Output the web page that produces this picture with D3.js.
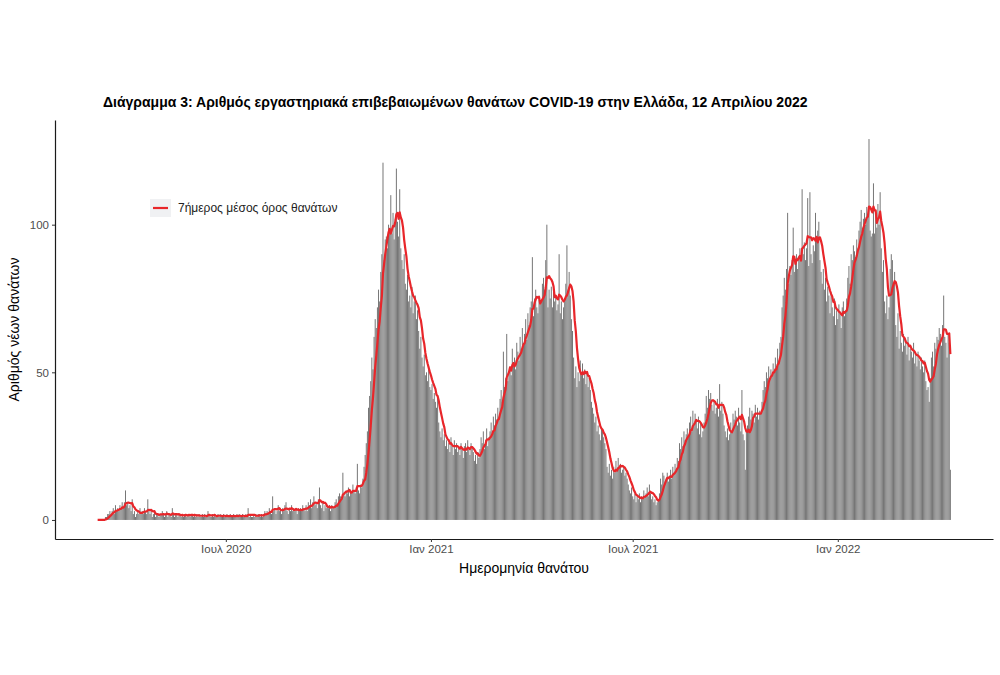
<!DOCTYPE html>
<html>
<head>
<meta charset="utf-8">
<script src="https://cdn.jsdelivr.net/npm/d3@7"></script>
<style>
body { margin: 0; background: #fff; }
svg text { font-family: 'Liberation Sans', Arial, sans-serif; }
</style>
</head>
<body>
<div class="interactive-wrapper"></div>
<script>

// daily deaths by date of death, from 8 Mar 2020
const startDate = '2020-03-08';

const deaths2020 = [
	0,0,0,0,0,0,0,1,1,2,2,3,2,3,4,2,5,3,4,3,5,4,6,4,
	6,10,5,6,4,5,3,7,2,3,1,2,3,2,4,2,3,2,4,3,2,7,3,2,3,1,2,3,1,2,
	2,1,2,2,3,2,1,2,3,1,2,2,1,4,2,1,2,2,1,2,2,1,2,1,2,2,1,2,2,1,2,
	2,1,2,1,2,1,2,1,1,2,1,2,1,1,3,2,1,1,2,1,2,1,1,2,1,2,1,1,2,1,
	1,2,1,1,2,1,1,2,1,1,2,1,2,1,1,2,1,1,2,1,4,1,2,1,1,2,1,2,1,2,2,
	1,2,1,2,3,2,3,2,4,3,2,8,3,4,2,3,5,3,4,2,4,3,5,6,3,2,4,3,5,3,4,
	3,4,2,4,3,4,3,5,4,3,5,3,6,5,7,4,6,8,5,6,4,7,11,5,4,6,3,5,4,5,
	4,5,3,5,4,4,6,7,5,8,9,8,7,16,9,8,10,9,11,8,10,9,12,10,9,11,19,10,9,12,11,
	14,18,22,26,30,38,42,47,55,51,62,68,65,72,78,74,84,90,121,88,95,96,92,100,98,110,97,104,95,102,
	119,101,96,112,92,88,85,90,80,78,83,74,76,72,79,70,74,76,68,71,64,58,62,55,52,56,49,50,47,52,45
];

const deaths2021 = [
	44,46,41,43,40,38,42,33,30,28,31,27,29,25,27,24,26,23,28,25,22,27,24,26,23,25,22,26,24,21,25,
	26,23,27,24,22,26,25,23,20,22,19,23,21,24,28,26,30,24,27,31,25,28,30,33,29,35,32,36,
	34,38,35,41,44,40,57,45,48,63,47,50,52,49,58,53,55,51,60,57,54,62,58,65,60,63,68,61,70,66,72,
	74,89,69,75,78,72,70,76,73,74,80,82,78,88,100,72,78,75,79,72,78,74,76,71,73,90,70,74,68,72,
	75,80,93,78,84,76,68,64,55,48,52,45,50,47,54,49,53,48,51,46,50,45,48,44,40,38,36,33,35,30,32,
	29,27,31,30,28,26,24,18,16,19,15,17,14,18,16,20,17,21,18,19,16,17,18,15,16,14,12,10,9,11,
	8,7,9,6,8,7,9,6,8,7,10,8,9,11,8,12,9,7,8,6,7,5,6,7,9,14,12,16,15,13,14,
	16,13,15,17,14,18,16,19,17,21,20,26,24,28,25,30,27,29,31,28,33,35,30,37,32,36,34,31,35,29,33,
	28,30,33,36,42,38,44,41,43,39,37,40,36,38,41,35,46,37,40,36,32,30,28,31,27,29,33,30,36,34,
	37,35,32,38,33,30,44,29,27,17,30,32,35,38,34,37,36,33,39,35,38,34,37,36,40,44,47,45,50,48,52,
	47,51,49,53,50,55,52,58,54,60,62,72,76,82,78,85,104,80,86,83,88,99,84,87,90,85,89,92,88,112,
	90,94,88,92,109,86,111,90,87,93,91,104,95,98,101,88,84,80,85,78,82,74,79,76,70,77,72,69,75,66,71
];

const deaths2022 = [
	68,73,70,65,72,74,69,71,75,82,86,80,90,88,93,91,89,95,92,98,101,105,99,102,104,100,106,103,129,98,96,
	97,114,97,103,99,107,100,111,92,84,88,74,70,76,68,72,85,90,88,79,84,66,62,70,58,64,60,57,
	63,59,61,56,62,54,58,57,55,60,53,56,52,57,54,51,55,52,50,54,47,44,45,40,48,55,57,52,60,58,62,
	61,65,63,59,66,76,62,60,55,63,60,17
];

const yTicks = [0, 50, 100];
const xTickDates = ['2020-07-01', '2021-01-01', '2021-07-01', '2022-01-01'];
const xTickLabels = ['Ιουλ 2020', 'Ιαν 2021', 'Ιουλ 2021', 'Ιαν 2022'];

const titleText = 'Διάγραμμα 3: Αριθμός εργαστηριακά επιβεβαιωμένων θανάτων COVID-19 στην Ελλάδα, 12 Απριλίου 2022';
const legendText = '7ήμερος μέσος όρος θανάτων';
const xTitle = 'Ημερομηνία θανάτου';
const yTitle = 'Αριθμός νέων θανάτων';

let width = 1000;
let height = 675;
let panel = {left: 55, right: 993, top: 120, bottom: 539};

let svg = d3.select('.interactive-wrapper').append('svg')
.attr('width', width)
.attr('height', height);

const parseDate = d3.utcParse('%Y-%m-%d');
const start = parseDate(startDate);

let deaths = deaths2020.concat(deaths2021, deaths2022);

let data = deaths.map((v, i) => ({
	date: d3.utcDay.offset(start, i),
	value: v,
	avg: d3.mean(deaths.slice(Math.max(0, i - 6), i + 1))
}));

const end = data[data.length - 1].date;
const pad = (end - start) * 0.05;

let xScale = d3.scaleUtc()
.domain([new Date(+start - pad), new Date(+end + pad)])
.range([panel.left, panel.right]);

const maxVal = d3.max(deaths);

let yScale = d3.scaleLinear()
.domain([-maxVal * 0.05, maxVal * 1.05])
.range([panel.bottom, panel.top]);

const barW = xScale(d3.utcHour.offset(start, 0.9 * 24)) - xScale(start);

svg.append('g')
.selectAll('rect')
.data(data.filter(d => d.value > 0))
.enter()
.append('rect')
.attr('x', d => xScale(d.date) - barW / 2)
.attr('width', barW)
.attr('y', d => yScale(d.value))
.attr('height', d => yScale(0) - yScale(d.value))
.attr('fill', '#737373');

let line = d3.line()
.x(d => xScale(d.date))
.y(d => yScale(d.avg));

svg.append('path')
.datum(data)
.attr('d', line)
.attr('fill', 'none')
.attr('stroke', '#e8262a')
.attr('stroke-width', 2.2)
.attr('stroke-linejoin', 'round');

// axes
let xAxis = svg.append('g')
.attr('transform', `translate(0,${panel.bottom})`)
.call(d3.axisBottom(xScale)
	.tickValues(xTickDates.map(parseDate))
	.tickFormat((d, i) => xTickLabels[i])
	.tickSize(3)
	.tickSizeOuter(0)
	.tickPadding(3));

let yAxis = svg.append('g')
.attr('transform', `translate(${panel.left},0)`)
.call(d3.axisLeft(yScale)
	.tickValues(yTicks)
	.tickSize(3)
	.tickSizeOuter(0)
	.tickPadding(3));

[xAxis, yAxis].forEach(ax => {
	ax.select('.domain').attr('stroke', '#1a1a1a').attr('stroke-width', 1.2);
	ax.selectAll('.tick line').attr('stroke', '#333');
	ax.selectAll('.tick text').attr('fill', '#4d4d4d').style('font-size', '11.5px');
});

// titles
svg.append('text')
.attr('x', 103)
.attr('y', 107)
.style('font-size', '14px')
.style('font-weight', 'bold')
.attr('fill', '#000')
.text(titleText);

svg.append('text')
.attr('x', (panel.left + panel.right) / 2)
.attr('y', 573)
.attr('text-anchor', 'middle')
.style('font-size', '14px')
.attr('fill', '#000')
.text(xTitle);

svg.append('text')
.attr('transform', `translate(19,${(panel.top + panel.bottom) / 2}) rotate(-90)`)
.attr('text-anchor', 'middle')
.style('font-size', '14px')
.attr('fill', '#000')
.text(yTitle);

// legend
let legend = svg.append('g')
.attr('transform', 'translate(150,199)');

legend.append('rect')
.attr('width', 21)
.attr('height', 18)
.attr('fill', '#f0f1f3');

legend.append('line')
.attr('x1', 3)
.attr('x2', 18)
.attr('y1', 9)
.attr('y2', 9)
.attr('stroke', '#e8262a')
.attr('stroke-width', 2.2);

legend.append('text')
.attr('x', 28)
.attr('y', 13)
.style('font-size', '12px')
.attr('fill', '#222')
.text(legendText);

</script>
</body>
</html>
